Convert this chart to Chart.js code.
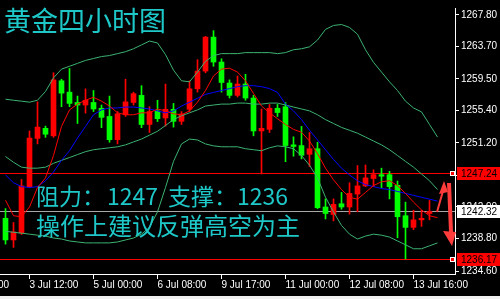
<!DOCTYPE html>
<html>
<head>
<meta charset="utf-8">
<script src="https://cdn.jsdelivr.net/npm/chart.js@4.4.0/dist/chart.umd.min.js"></script>
<style>
  html, body { margin: 0; padding: 0; background: #f0f0f0; }
  #wrap { width: 500px; height: 296px; background: #000; }
</style>
</head>
<body>
<div id="wrap"><canvas id="chart" width="500" height="296"></canvas></div>
<script>
// 4h candles, one per index
const opens = [1241.43, 1238.63, 1239.54, 1245.50, 1251.79, 1253.09, 1252.12, 1259.25, 1257.78, 1256.44,
  1256.11, 1256.44, 1255.69, 1254.63, 1251.62, 1254.85, 1256.44, 1257.36, 1253.59, 1255.35,
  1254.43, 1255.56, 1254.00, 1255.56, 1258.21, 1260.51, 1264.91, 1261.68, 1258.96, 1257.36,
  1258.83, 1257.02, 1252.75, 1252.96, 1255.69, 1255.89, 1250.95, 1250.86, 1249.73, 1250.45,
  1242.90, 1241.93, 1243.32, 1242.90, 1244.57, 1245.63, 1246.59, 1247.09, 1247.09, 1245.71,
  1241.77, 1240.26, 1241.23, 1242.06];
const highs = [1242.69, 1240.89, 1246.46, 1252.75, 1256.52, 1253.38, 1260.29, 1259.46, 1260.85, 1257.27,
  1258.21, 1257.99, 1256.11, 1257.27, 1255.26, 1259.46, 1257.78, 1258.62, 1255.89, 1256.73,
  1258.83, 1256.32, 1255.26, 1259.25, 1261.98, 1265.00, 1265.75, 1262.10, 1259.37, 1259.88,
  1260.09, 1257.36, 1255.60, 1256.19, 1256.19, 1256.44, 1251.99, 1253.34, 1252.55, 1251.29,
  1243.95, 1243.95, 1244.79, 1246.04, 1248.27, 1248.35, 1247.72, 1247.93, 1247.52, 1246.26,
  1243.53, 1242.49, 1242.49, 1243.74];
const lows = [1238.09, 1237.66, 1239.34, 1245.42, 1251.07, 1251.92, 1251.92, 1255.89, 1255.89, 1253.72,
  1255.06, 1255.26, 1253.18, 1251.29, 1251.07, 1254.63, 1256.11, 1253.18, 1252.55, 1253.97,
  1253.38, 1253.25, 1253.59, 1255.26, 1257.78, 1260.29, 1261.13, 1257.78, 1257.02, 1257.15,
  1256.73, 1252.12, 1247.18, 1252.55, 1254.63, 1248.77, 1249.48, 1249.13, 1248.14, 1242.69,
  1241.35, 1241.10, 1242.61, 1241.98, 1242.27, 1245.54, 1245.54, 1245.42, 1243.95, 1238.91,
  1236.17, 1239.97, 1240.39, 1241.23];
const closes = [1238.63, 1239.67, 1245.63, 1251.83, 1253.25, 1252.33, 1259.37, 1257.65, 1256.32, 1256.11,
  1256.73, 1255.60, 1254.51, 1251.62, 1254.97, 1256.52, 1257.58, 1253.59, 1255.26, 1254.34,
  1255.56, 1254.00, 1254.94, 1258.21, 1260.51, 1264.91, 1261.68, 1259.03, 1257.36, 1258.83,
  1257.02, 1252.75, 1253.09, 1255.69, 1255.14, 1250.86, 1250.74, 1249.60, 1250.45, 1242.81,
  1242.06, 1243.24, 1242.90, 1244.66, 1245.63, 1246.67, 1247.09, 1246.89, 1245.54, 1241.64,
  1240.26, 1241.23, 1241.43, 1242.32];

// indicator lines (drawn one bar further than the candles)
const maRed = [1243.78, 1241.77, 1241.64, 1242.90, 1245.42, 1246.67, 1249.57, 1253.34, 1255.48, 1256.23,
  1256.73, 1257.11, 1256.61, 1255.98, 1255.10, 1254.85, 1254.85, 1255.10, 1255.10, 1255.60,
  1255.35, 1254.97, 1254.85, 1255.35, 1256.48, 1257.99, 1259.88, 1260.76, 1260.88, 1260.38,
  1259.25, 1257.61, 1255.98, 1255.10, 1254.34, 1253.59, 1252.96, 1252.58, 1251.45, 1249.82,
  1247.93, 1246.42, 1245.16, 1244.16, 1243.91, 1244.79, 1245.67, 1246.17, 1246.30, 1245.67,
  1244.66, 1243.53, 1242.52, 1241.77, 1241.52];
const maBlue = [1247.05, 1246.04, 1245.54, 1245.42, 1245.54, 1246.30, 1247.43, 1248.94, 1250.19, 1251.83,
  1253.34, 1254.85, 1255.48, 1255.73, 1255.73, 1255.85, 1255.85, 1255.73, 1255.60, 1255.35,
  1255.10, 1255.35, 1255.98, 1256.48, 1256.99, 1257.49, 1257.74, 1257.99, 1258.24, 1258.49,
  1258.62, 1258.62, 1258.49, 1258.24, 1257.74, 1256.23, 1255.35, 1254.22, 1252.84, 1251.58,
  1250.32, 1249.06, 1247.93, 1247.05, 1246.30, 1245.79, 1245.54, 1245.29, 1245.16, 1244.91,
  1244.66, 1244.41, 1244.16, 1243.91, 1243.66];
const bbUpper = [1256.86, 1256.73, 1256.61, 1256.48, 1256.73, 1257.87, 1259.63, 1260.76, 1261.13, 1261.51,
  1261.89, 1262.14, 1262.39, 1262.52, 1262.77, 1263.02, 1263.40, 1263.90, 1264.40, 1264.15,
  1262.64, 1260.63, 1259.25, 1259.12, 1260.38, 1261.76, 1262.52, 1262.77, 1262.77, 1262.77,
  1262.90, 1262.90, 1262.90, 1262.90, 1262.77, 1262.90, 1263.27, 1263.40, 1263.65, 1264.53,
  1265.91, 1266.42, 1266.54, 1266.16, 1265.28, 1263.27, 1261.64, 1260.38, 1259.12, 1257.99,
  1256.61, 1255.73, 1255.22, 1253.59, 1251.96];
const bbMiddle = [1249.44, 1248.69, 1248.06, 1247.93, 1247.93, 1248.06, 1248.56, 1248.94, 1249.31, 1249.69,
  1250.07, 1250.32, 1250.45, 1250.57, 1250.70, 1250.95, 1251.33, 1251.70, 1252.21, 1252.71,
  1253.46, 1254.22, 1254.72, 1255.10, 1255.48, 1255.98, 1256.11, 1256.23, 1256.23, 1256.36,
  1256.36, 1256.23, 1256.23, 1256.36, 1256.36, 1256.11, 1255.85, 1255.60, 1255.35, 1254.85,
  1254.22, 1253.72, 1253.21, 1252.84, 1252.46, 1251.96, 1251.45, 1250.95, 1250.32, 1249.57,
  1248.81, 1248.06, 1247.18, 1246.30, 1245.16];
const bbLower = [1239.76, 1239.63, 1239.51, 1239.38, 1239.25, 1239.13, 1238.88, 1238.75, 1238.50, 1238.37,
  1238.25, 1238.25, 1238.25, 1238.25, 1238.37, 1238.63, 1238.88, 1239.38, 1240.26, 1242.27,
  1245.42, 1248.81, 1251.07, 1251.70, 1251.58, 1251.07, 1250.82, 1250.70, 1250.70, 1250.70,
  1250.45, 1250.32, 1250.19, 1250.57, 1250.82, 1250.70, 1250.45, 1249.57, 1248.31, 1246.67,
  1244.16, 1242.27, 1240.51, 1239.38, 1238.75, 1239.13, 1239.38, 1239.25, 1239.00, 1238.50,
  1238.00, 1237.49, 1237.49, 1237.87, 1238.25];

// axis ticks
const timePos = [-5, 3, 11, 19, 27, 35, 43, 51];
const timeLabels = ['2 Jul 04:00', '3 Jul 12:00', '5 Jul 00:00', '6 Jul 08:00', '9 Jul 17:00', '11 Jul 00:00', '12 Jul 08:00', '13 Jul 16:00'];
const priceTicks = [1234.60, 1238.80, 1242.90, 1247.00, 1251.20, 1255.40, 1259.50, 1263.70, 1267.80];

// horizontal lines: resistance, current bid, support
const levels = [1247.24, 1242.32, 1236.17];

const UP = '#ff0000';
const DOWN = '#00ff00';
const BAND = '#3cb371';
const CYAN = '#1ec8c8';
const axisFont = { family: '"Liberation Sans", Arial, sans-serif', size: 10 };

const idx = opens.map((_, i) => i);
const candleColors = idx.map(i => closes[i] >= opens[i] ? UP : DOWN);

function lineSet(values, color, order) {
  return {
    type: 'line',
    data: values.map((v, i) => ({ x: i, y: v })),
    borderColor: color,
    borderWidth: 1,
    pointRadius: 0,
    tension: 0,
    order: order
  };
}

const overlay = {
  id: 'overlay',
  beforeDatasetsDraw(chart) {
    const ctx = chart.ctx;
    const y = chart.scales.y;
    const area = chart.chartArea;
    ctx.save();
    levels.forEach((v, k) => {
      const py = Math.round(y.getPixelForValue(v)) + 0.5;
      ctx.strokeStyle = k === 1 ? '#a8a8a8' : '#ff0000';
      ctx.lineWidth = 1;
      ctx.beginPath();
      ctx.moveTo(area.left, py);
      ctx.lineTo(area.right, py);
      ctx.stroke();
    });
    ctx.restore();
  },
  afterDraw(chart) {
    const ctx = chart.ctx;
    const y = chart.scales.y;
    const area = chart.chartArea;
    ctx.save();

    // clipped label at the left edge of the time axis
    ctx.fillStyle = '#fff';
    ctx.font = axisFont.size + 'px ' + axisFont.family;
    ctx.textBaseline = 'top';
    ctx.textAlign = 'right';
    ctx.fillText(timeLabels[0], 9, area.bottom + 6);
    ctx.textAlign = 'left';

    // price boxes on the axis
    levels.forEach((v, k) => {
      const py = Math.round(y.getPixelForValue(v));
      ctx.fillStyle = k === 1 ? '#ffffff' : '#ff0000';
      ctx.fillRect(area.right + 2, py - 6, 500 - area.right - 2, 13);
      ctx.fillStyle = '#000';
      ctx.textBaseline = 'middle';
      ctx.fillText(v.toFixed(2), area.right + 6, py + 1);
      if (k !== 1) {
        ctx.fillStyle = '#fff';
        ctx.fillRect(area.right - 5, py - 2, 5, 5);
        ctx.fillStyle = '#ff0000';
        ctx.fillRect(area.right - 4, py - 1, 3, 3);
      }
    });

    // arrows
    ctx.fillStyle = '#ff3c3c';
    ctx.strokeStyle = '#ff3c3c';
    ctx.lineWidth = 2;
    ctx.beginPath();
    ctx.moveTo(437, 212);
    ctx.lineTo(443, 191);
    ctx.stroke();
    ctx.beginPath();
    ctx.moveTo(444, 181);
    ctx.lineTo(439, 194);
    ctx.lineTo(448, 192);
    ctx.closePath();
    ctx.fill();
    ctx.beginPath();
    ctx.moveTo(447, 183);
    ctx.lineTo(451, 183);
    ctx.lineTo(453, 232);
    ctx.lineTo(449, 232);
    ctx.closePath();
    ctx.fill();
    ctx.beginPath();
    ctx.moveTo(443, 231);
    ctx.lineTo(456, 232);
    ctx.lineTo(452, 246);
    ctx.closePath();
    ctx.fill();

    // captions
    ctx.fillStyle = CYAN;
    ctx.textBaseline = 'alphabetic';
    ctx.font = '27px "Noto Sans CJK SC"';
    ctx.fillText('黄金四小时图', 4, 31);
    ctx.font = '23px "Noto Sans CJK SC"';
    ctx.fillText('阻力：', 36, 205);
    ctx.fillText('1247', 107, 205);
    ctx.fillText('支撑：', 168, 205);
    ctx.fillText('1236', 237, 205);
    ctx.font = '24px "Noto Sans CJK SC"';
    ctx.fillText('操作上建议反弹高空为主', 36, 235);
    ctx.restore();
  }
};

new Chart(document.getElementById('chart'), {
  type: 'bar',
  data: {
    datasets: [
      lineSet(maRed, '#ff0000', 1),
      lineSet(maBlue, '#0000ff', 2),
      lineSet(bbUpper, BAND, 3),
      lineSet(bbMiddle, BAND, 4),
      lineSet(bbLower, BAND, 5),
      {
        type: 'bar',
        data: idx.map(i => ({ x: i, y: [opens[i], closes[i]] })),
        backgroundColor: candleColors,
        barThickness: 5,
        minBarLength: 1,
        grouped: false,
        order: 10
      },
      {
        type: 'bar',
        data: idx.map(i => ({ x: i, y: [lows[i], highs[i]] })),
        backgroundColor: candleColors,
        barThickness: 1,
        grouped: false,
        order: 11
      }
    ]
  },
  options: {
    responsive: false,
    animation: false,
    events: [],
    layout: { padding: 0, autoPadding: false },
    plugins: { legend: { display: false }, tooltip: { enabled: false } },
    scales: {
      x: {
        type: 'linear',
        min: -0.6875,
        max: 56.1875,
        offset: false,
        afterBuildTicks: s => { s.ticks = timePos.filter(v => v >= 0).map(v => ({ value: v })); },
        afterFit: s => { s.height = 22; },
        ticks: {
          color: '#fff',
          font: axisFont,
          align: 'start',
          maxRotation: 0,
          autoSkip: false,
          padding: 0,
          callback: v => timeLabels[timePos.indexOf(v)]
        },
        grid: { drawOnChartArea: false, tickLength: 5, color: '#fff', offset: false },
        border: { color: '#fff' }
      },
      y: {
        position: 'right',
        min: 1234.22,
        max: 1268.68,
        afterBuildTicks: s => { s.ticks = priceTicks.map(v => ({ value: v })); },
        afterFit: s => { s.width = 45; },
        ticks: {
          color: '#fff',
          font: axisFont,
          padding: 2,
          callback: v => v.toFixed(2)
        },
        grid: { drawOnChartArea: false, tickLength: 4, color: '#fff' },
        border: { color: '#fff' }
      }
    }
  },
  plugins: [overlay]
});
</script>
</body>
</html>
